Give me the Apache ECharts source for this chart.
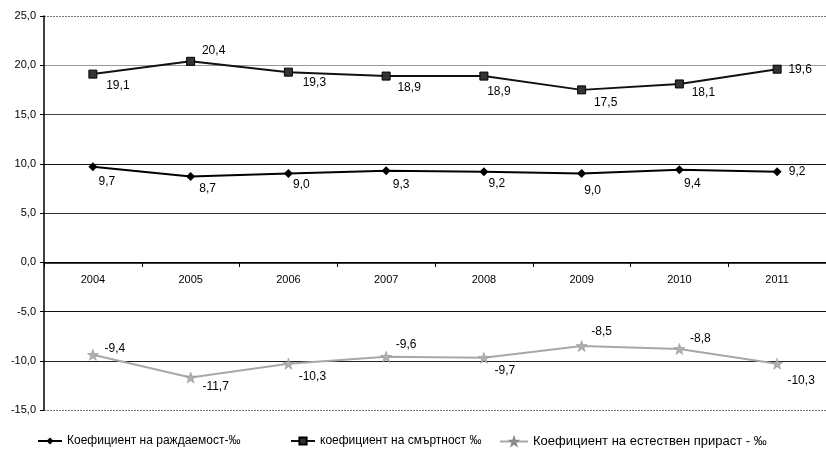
<!DOCTYPE html>
<html lang="bg">
<head>
    <meta charset="UTF-8">
    <title>Коефициенти</title>
    <script src="https://cdn.jsdelivr.net/npm/echarts@6/dist/echarts.min.js"></script>
    <style>
        html, body { margin: 0; padding: 0; background: #fff; }
        #chart { width: 826px; height: 450px; }
    </style>
</head>
<body>
    <div id="chart"></div>

    <script>
        // данни
        var years = ['2004', '2005', '2006', '2007', '2008', '2009', '2010', '2011'];
        var birthRate = [9.7, 8.7, 9.0, 9.3, 9.2, 9.0, 9.4, 9.2];
        var deathRate = [19.1, 20.4, 19.3, 18.9, 18.9, 17.5, 18.1, 19.6];
        var naturalRate = [-9.4, -11.7, -10.3, -9.6, -9.7, -8.5, -8.8, -10.3];
        var seriesNames = [
            'Коефициент на раждаемост-‰',
            'коефициент на смъртност ‰',
            'Коефициент на естествен прираст - ‰'
        ];

        // отместване на етикетите (само стил)
        var birthOffsets = [[14, 15], [17, 12], [13, 11], [15, 14], [13, 12], [11, 17], [13, 14], [20, 0]];
        var deathOffsets = [[25, 12], [23, -11], [26, 11], [23, 12], [15, 16], [24, 13], [24, 9], [23, 0]];
        var naturalOffsets = [[22, -6], [25, 9], [24, 13], [20, -12], [21, 13], [20, -14], [21, -10], [24, 17]];

        var FONT = 'Liberation Sans, Arial, sans-serif';
        var T = 'rgba(0,0,0,0)';

        function fmt(v) {
            return v.toFixed(1).replace('.', ',');
        }

        function withLabels(values, offsets) {
            return values.map(function (v, i) {
                return {
                    value: v,
                    label: { offset: offsets[i] }
                };
            });
        }

        var starPath = 'path://M5,0 L6.2,3.6 L10,3.8 L7,6.1 L8.1,10 L5,7.7 L1.9,10 L3,6.1 L0,3.8 L3.8,3.6 Z';

        var baseLabel = {
            show: true,
            position: 'inside',
            align: 'center',
            verticalAlign: 'middle',
            color: '#000',
            fontFamily: FONT,
            fontSize: 12,
            formatter: function (p) { return fmt(p.value); }
        };

        var chart = echarts.init(document.getElementById('chart'));

        var option = {
            backgroundColor: '#fff',
            animation: false,
            grid: {
                left: 44,
                top: 16,
                width: 792,
                height: 394,
                containLabel: false
            },
            legend: [
                {
                    data: [seriesNames[0]],
                    left: 32, top: 430,
                    itemWidth: 24, itemHeight: 9,
                    textStyle: { fontFamily: FONT, fontSize: 12, color: '#000' }
                },
                {
                    data: [seriesNames[1]],
                    left: 285, top: 430,
                    itemWidth: 24, itemHeight: 9,
                    textStyle: { fontFamily: FONT, fontSize: 12, color: '#000' }
                },
                {
                    data: [seriesNames[2]],
                    left: 494, top: 430,
                    itemWidth: 28, itemHeight: 9,
                    textStyle: { fontFamily: FONT, fontSize: 13, color: '#000' }
                }
            ],
            xAxis: {
                type: 'category',
                data: years,
                boundaryGap: true,
                position: 'bottom',
                offset: -147,
                axisLine: { onZero: false, lineStyle: { color: '#000', width: 1.5 } },
                axisTick: { show: true, length: 4, lineStyle: { color: '#000' } },
                axisLabel: {
                    margin: 11,
                    color: '#000',
                    fontFamily: FONT,
                    fontSize: 11
                },
                splitLine: { show: false }
            },
            yAxis: [
                {
                    type: 'value',
                    min: -15,
                    max: 25,
                    interval: 5,
                    axisLine: { show: true, lineStyle: { color: '#000', width: 1.5 } },
                    axisTick: { show: true, length: 4, lineStyle: { color: '#000' } },
                    axisLabel: {
                        margin: 8,
                        color: '#000',
                        fontFamily: FONT,
                        fontSize: 11,
                        formatter: function (v) { return fmt(v); }
                    },
                    splitLine: {
                        show: true,
                        lineStyle: {
                            width: 1,
                            color: [T, '#222', '#111', '#000', '#333', '#111', '#444', '#9a9a9a', T]
                        }
                    }
                },
                {
                    type: 'value',
                    min: -15,
                    max: 25,
                    interval: 5,
                    position: 'left',
                    axisLine: { show: false },
                    axisTick: { show: false },
                    axisLabel: { show: false },
                    splitLine: {
                        show: true,
                        lineStyle: {
                            width: 1,
                            type: [2, 1],
                            color: ['#777', T, T, T, T, T, T, T, '#777']
                        }
                    }
                }
            ],
            series: [
                {
                    name: seriesNames[0],
                    type: 'line',
                    data: withLabels(birthRate, birthOffsets),
                    symbol: 'diamond',
                    symbolSize: 9,
                    lineStyle: { color: '#000', width: 2 },
                    itemStyle: { color: '#000' },
                    label: baseLabel,
                    z: 3
                },
                {
                    name: seriesNames[1],
                    type: 'line',
                    data: withLabels(deathRate, deathOffsets),
                    symbol: 'rect',
                    symbolSize: 8,
                    lineStyle: { color: '#111', width: 2 },
                    itemStyle: { color: '#333', borderColor: '#000', borderWidth: 1 },
                    label: baseLabel,
                    z: 3
                },
                {
                    name: seriesNames[2],
                    type: 'line',
                    data: withLabels(naturalRate, naturalOffsets),
                    symbol: starPath,
                    symbolSize: 11,
                    lineStyle: { color: '#a8a8a8', width: 2 },
                    itemStyle: { color: '#b0b0b0', borderColor: '#888', borderWidth: 0.5 },
                    label: baseLabel,
                    z: 3
                }
            ]
        };

        chart.setOption(option);
    </script>
</body>
</html>
